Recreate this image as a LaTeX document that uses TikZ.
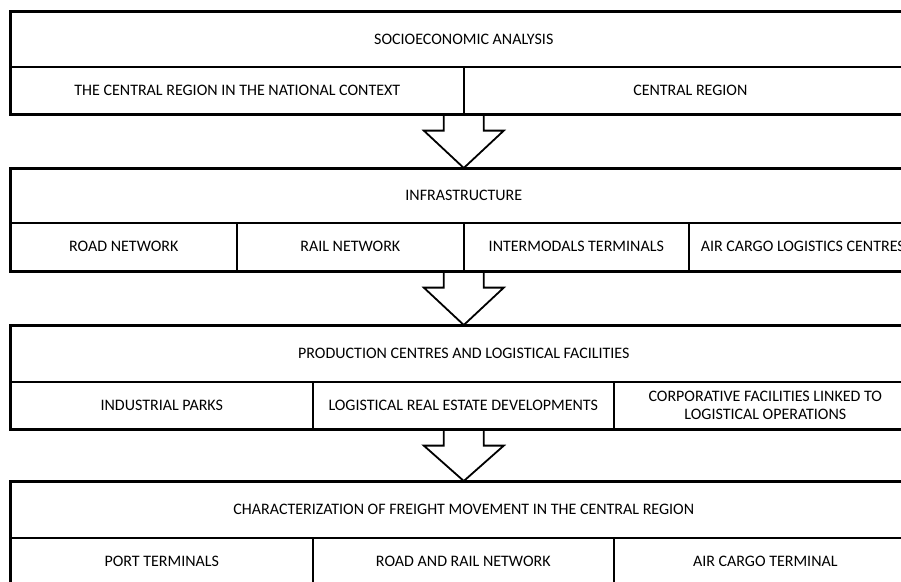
\documentclass[tikz,border=0pt]{standalone}
\usepackage{fontspec}
\setmainfont{Carlito}
\usetikzlibrary{calc}
\tikzset{
  cell/.style={draw, line width=1.6pt, anchor=north west, inner sep=0pt, align=center,
    font=\fontsize{16}{18.5}\selectfont},
  head/.style={cell, minimum width=906pt, minimum height=55pt},
  outline/.style={draw, line width=2.2pt},
  barrow/.style={draw, line width=1.8pt, line join=miter}
}
\newcommand\blockarrow[2]{%
  \draw[barrow] let \p1=(#2.north), \p2=(#1.south) in
    (\x1-20pt,\y2) -- (\x1-20pt,\y2-16pt) -- (\x1-40pt,\y2-16pt) -- (\p1)
    -- (\x1+40pt,\y2-16pt) -- (\x1+20pt,\y2-16pt) -- (\x1+20pt,\y2);}
\begin{document}
\begin{tikzpicture}[x=1pt,y=-1pt]
\useasboundingbox (0,0) rectangle (901,581);
\clip (0,0) rectangle (901,581);
% block 1
\node[head] (h1) at (10,11) {SOCIOECONOMIC ANALYSIS};
\node[cell, minimum width=453pt, minimum height=47pt] (c11) at (10,66) {THE CENTRAL REGION IN THE NATIONAL CONTEXT};
\node[cell, minimum width=453pt, minimum height=47pt] (c12) at (463,66) {CENTRAL REGION};
\draw[outline] (h1.north west) rectangle (c12.south east);
% block 2
\node[head, minimum height=54pt] (h2) at (10,168) {INFRASTRUCTURE};
\node[cell, minimum width=226pt, minimum height=48pt] (c21) at (10,222) {ROAD NETWORK};
\node[cell, minimum width=227pt, minimum height=48pt] (c22) at (236,222) {RAIL NETWORK};
\node[cell, minimum width=225pt, minimum height=48pt] (c23) at (463,222) {INTERMODALS TERMINALS};
\node[cell, minimum width=228pt, minimum height=48pt] (c24) at (688,222) {AIR CARGO LOGISTICS CENTRES};
\draw[outline] (h2.north west) rectangle (c24.south east);
% block 3
\node[head, minimum height=56pt] (h3) at (10,325) {PRODUCTION CENTRES AND LOGISTICAL FACILITIES};
\node[cell, minimum width=302pt, minimum height=47pt] (c31) at (10,381) {INDUSTRIAL PARKS};
\node[cell, minimum width=301pt, minimum height=47pt] (c32) at (312,381) {LOGISTICAL REAL ESTATE DEVELOPMENTS};
\node[cell, minimum width=303pt, minimum height=47pt] (c33) at (613,381) {CORPORATIVE FACILITIES LINKED TO\\LOGISTICAL OPERATIONS};
\draw[outline] (h3.north west) rectangle (c33.south east);
% block 4
\node[head, minimum height=56pt] (h4) at (10,481) {CHARACTERIZATION OF FREIGHT MOVEMENT IN THE CENTRAL REGION};
\node[cell, minimum width=302pt, minimum height=47pt] (c41) at (10,537) {PORT TERMINALS};
\node[cell, minimum width=301pt, minimum height=47pt] (c42) at (312,537) {ROAD AND RAIL NETWORK};
\node[cell, minimum width=303pt, minimum height=47pt] (c43) at (613,537) {AIR CARGO TERMINAL};
\draw[outline] (h4.north west) rectangle (c43.south east);
% arrows
\blockarrow{c11}{h2}
\blockarrow{c21}{h3}
\blockarrow{c31}{h4}
\end{tikzpicture}
\end{document}
